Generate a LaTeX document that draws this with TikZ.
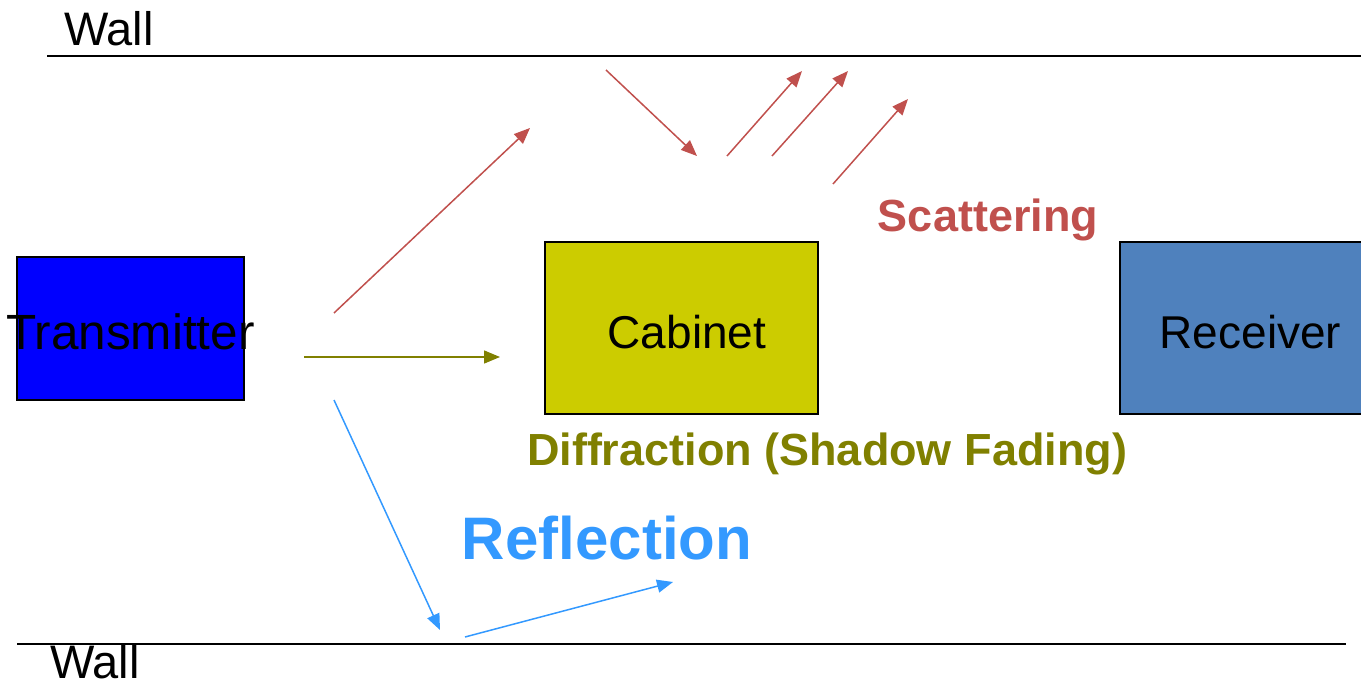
\documentclass[tikz,border=0pt]{standalone}
\usepackage{fontspec}
\setmainfont{Liberation Sans}
\usetikzlibrary{arrows.meta}

\definecolor{scatred}{RGB}{192,80,77}
\definecolor{diffolive}{RGB}{128,128,0}
\definecolor{reflblue}{RGB}{51,153,255}
\definecolor{cabyellow}{RGB}{204,204,0}
\definecolor{rxblue}{RGB}{79,129,189}

\begin{document}
\begin{tikzpicture}[
  x=1pt,y=-1pt,
  box/.style={draw=black,line width=1.5pt,inner sep=0pt,text height=41pt,text depth=0pt,font=\fontsize{46}{50}\selectfont},
  wall/.style={draw=black,line width=1.8pt},
  walltext/.style={anchor=base west,inner sep=0pt,font=\fontsize{47}{50}\selectfont},
  tag/.style={anchor=base,inner sep=0pt,font=\bfseries\fontsize{45}{50}\selectfont},
  ray/.style={line width=1.5pt,-{Triangle[length=16pt,width=13pt]}}
]
  \useasboundingbox (0,0) rectangle (1361,682);

  % walls
  \coordinate (wtl) at (47,56);
  \coordinate (wtr) at (1361,56);
  \coordinate (wbl) at (17,644);
  \coordinate (wbr) at (1346,644);
  \draw[wall] (wtl) -- (wtr);
  \draw[wall] (wbl) -- (wbr);
  \node[walltext] (wtop) at (64,46) {Wall};
  \node[walltext] (wbot) at (50,678) {Wall};

  % boxes
  \node[box,fill=blue,minimum width=227pt,minimum height=143pt] (tx) at (130.5,328.5) {\fontsize{49.5}{52}\selectfont\makebox[0pt]{Transmitter}};
  \node[box,fill=cabyellow,minimum width=273pt,minimum height=172pt] (cab) at (681.5,328) {\hspace{11pt}Cabinet};
  \node[box,fill=rxblue,minimum width=261pt,minimum height=172pt] (rx) at (1250.5,328) {Receiver};

  % labels
  \node[tag,text=scatred] (scat) at (988,232) {Scattering};
  \node[tag,text=diffolive] (diff) at (827,465) {Diffraction (Shadow Fading)};
  \node[tag,text=reflblue,font=\bfseries\fontsize{60}{66}\selectfont] (refl) at (607,559) {Reflection};

  % rays
  \coordinate (s1a) at (334,313);  \coordinate (s1b) at (530,128);
  \coordinate (d1a) at (304,357);  \coordinate (d1b) at (500,357);
  \coordinate (r1a) at (334,400);  \coordinate (r1b) at (440,630);
  \coordinate (r2a) at (465,637);  \coordinate (r2b) at (673,582);
  \coordinate (s2a) at (606,70);   \coordinate (s2b) at (697,156);
  \coordinate (s3a) at (727,156);  \coordinate (s3b) at (802,71);
  \coordinate (s4a) at (772,156);  \coordinate (s4b) at (848,71);
  \coordinate (s5a) at (833,184);  \coordinate (s5b) at (908,99);

  \draw[ray,scatred] (s1a) -- (s1b);
  \draw[ray,diffolive] (d1a) -- (d1b);
  \draw[ray,reflblue] (r1a) -- (r1b);
  \draw[ray,reflblue] (r2a) -- (r2b);
  \draw[ray,scatred] (s2a) -- (s2b);
  \draw[ray,scatred] (s3a) -- (s3b);
  \draw[ray,scatred] (s4a) -- (s4b);
  \draw[ray,scatred] (s5a) -- (s5b);
\end{tikzpicture}
\end{document}
